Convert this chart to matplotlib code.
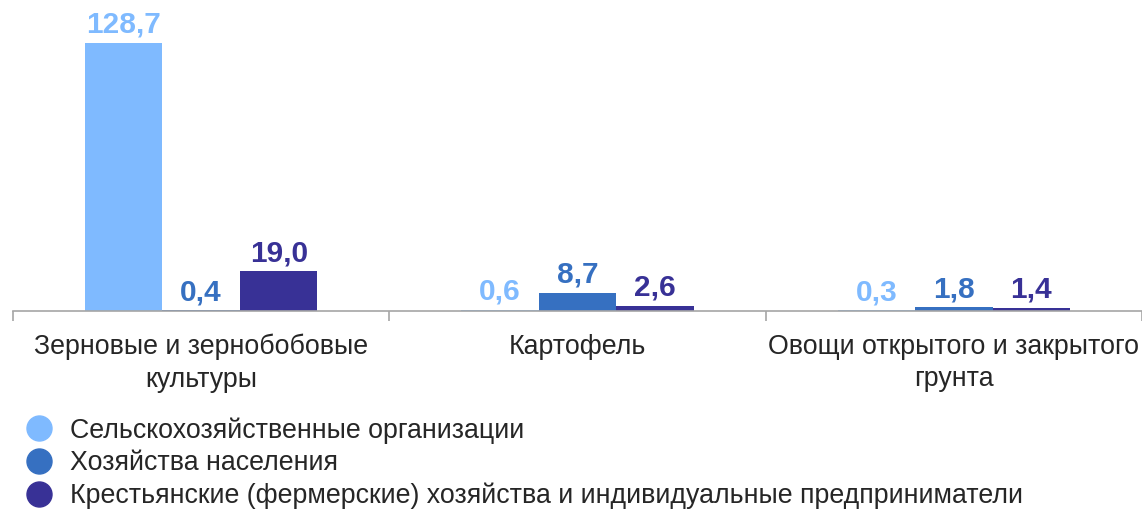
import matplotlib.pyplot as plt
from matplotlib.lines import Line2D
import numpy as np

plt.rcParams['font.family'] = ['Liberation Sans', 'DejaVu Sans']

# данные
categories = ['Зерновые и зернобобовые\nкультуры', 'Картофель',
              'Овощи открытого и закрытого\nгрунта']
series_names = ['Сельскохозяйственные организации',
                'Хозяйства населения',
                'Крестьянские (фермерские) хозяйства и индивидуальные предприниматели']
agri_org = [128.7, 0.6, 0.3]
households = [0.4, 8.7, 1.8]
farmers = [19.0, 2.6, 1.4]

colors = ['#7fbaff', '#3670c1', '#383196']
values = [agri_org, households, farmers]

fig = plt.figure(figsize=(11.42, 5.11), dpi=100)
ax = fig.add_axes([13 / 1142, 200 / 511, 1129 / 1142, 311 / 511])

x = np.arange(len(categories))
w = 0.206
for i, (vals, col) in enumerate(zip(values, colors)):
    pos = x + (i - 1) * w
    ax.bar(pos, vals, width=w, color=col, zorder=2)
    for px, v in zip(pos, vals):
        ax.annotate('{:.1f}'.format(v).replace('.', ','), (px, v),
                    xytext=(0, 3), textcoords='offset points',
                    ha='center', va='bottom', fontsize=21.5,
                    fontweight='bold', color=col)

ax.set_xlim(-0.5, 2.5)
ax.set_ylim(0, 149.3)

for s in ['top', 'right', 'left']:
    ax.spines[s].set_visible(False)
ax.spines['bottom'].set_color('#a6a6a6')
ax.spines['bottom'].set_linewidth(1.2)
ax.set_yticks([])

ax.set_xticks(x)
ax.set_xticklabels(categories, fontsize=19.3, color='#262626', linespacing=1.32)
ax.tick_params(axis='x', which='major', length=0, pad=16.5)
ax.set_xticks([-0.5, 0.5, 1.5, 2.5], minor=True)
ax.tick_params(axis='x', which='minor', length=7, color='#a6a6a6', width=1.2)

handles = [Line2D([0], [0], marker='o', linestyle='none', markersize=18,
                  markerfacecolor=c, markeredgecolor=c) for c in colors]
fig.legend(handles, series_names, loc='upper left',
           bbox_to_anchor=(22 / 1142, 1 - 417 / 511), frameon=False,
           fontsize=19.3, labelcolor='#262626', handletextpad=0.5,
           labelspacing=0.25, borderpad=0, borderaxespad=0, handlelength=1.3)

fig.savefig('out.png', dpi=100)
